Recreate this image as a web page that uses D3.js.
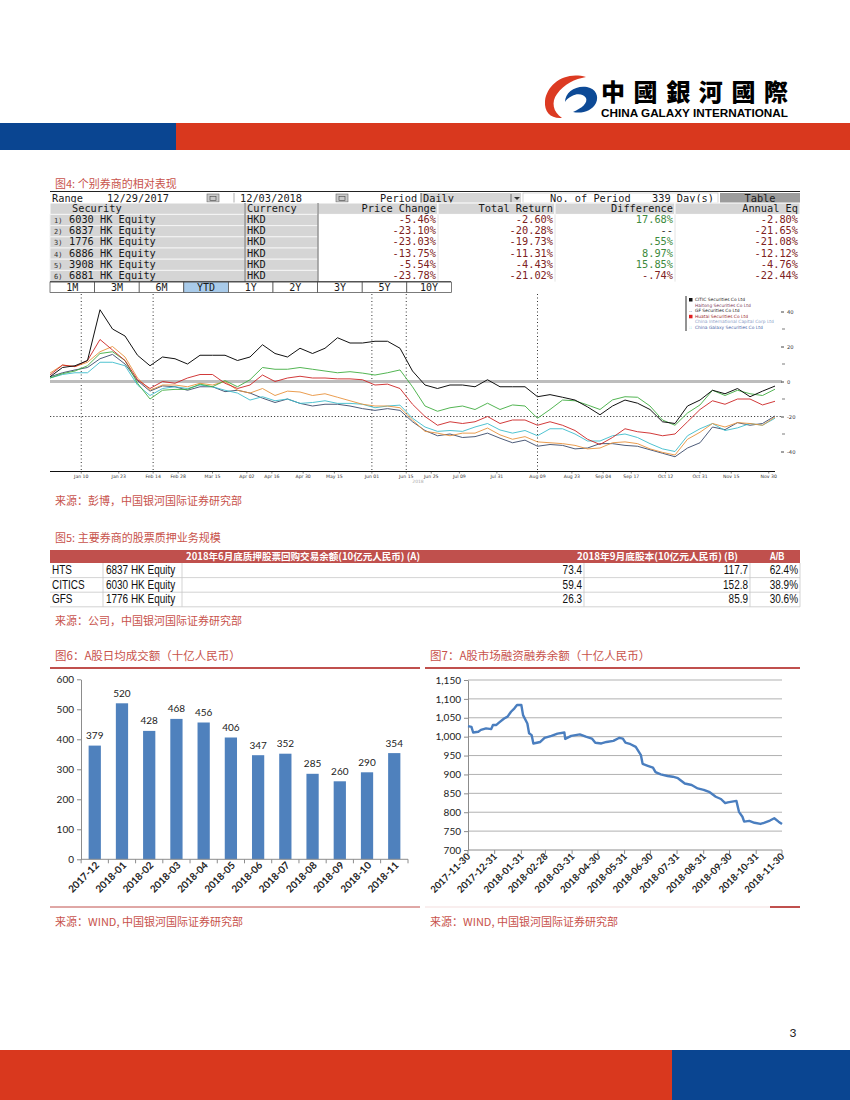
<!DOCTYPE html>
<html><head><meta charset="utf-8">
<script src="https://cdn.jsdelivr.net/npm/d3@7"></script>
<style>body{margin:0;background:#fff;}svg{display:block;}</style>
</head><body>
<svg id="page" width="850" height="1100"></svg>
<script>
// ================= DATA =================
// Fig 4 – Bloomberg relative performance table
const bbHeaders = ["Security","Currency","Price Change","Total Return","Difference","Annual Eq"];
const bbSecurities = ["6030 HK Equity","6837 HK Equity","1776 HK Equity","6886 HK Equity","3908 HK Equity","6881 HK Equity"];
const bbCurrency = ["HKD","HKD","HKD","HKD","HKD","HKD"];
const bbPriceChange = [-5.46,-23.10,-23.03,-13.75,-5.54,-23.78];
const bbTotalReturn = [-2.60,-20.28,-19.73,-11.31,-4.43,-21.02];
const bbDifference = [17.68,null,0.55,8.97,15.85,-0.74];
const bbAnnualEq = [-2.80,-21.65,-21.08,-12.12,-4.76,-22.44];
const bbTabs = ["1M","3M","6M","YTD","1Y","2Y","3Y","5Y","10Y"];

// Fig 4 – relative performance lines (trading-day index, % relative)
const bbDays = [0,4,8,12,16,20,24,28,32,36,40,44,48,52,56,60,64,68,72,76,80,84,88,92,96,100,104,108,112,116,120,124,128,132,136,140,144,148,152,156,160,164,168,172,176,180,184,188,192,196,200,204,208,212,216,220,224,228,232];
const citic = [2.7,8,9,12,41,30,26,15,9,14,13,10,15,15,15,12,14,21,16,14,19,16,19,25,22,22,23,23,19,6,-2,-4,-2,-2,-3,1,-3,-3,-3,-8.7,-7.5,-9,-10.6,-14.5,-19,-14,-10.6,-12.4,-16,-23,-24,-14,-10.6,-5,-7,-4,-8.7,-5.5,-2.6];
const haitong = [4.8,9.4,8.5,11,17,20,14,2,-5,-2,-2,-3,-1,-2,0,-5,-6.6,-4,-8,-5.5,-6,-8,-7,-9,-11,-13,-14,-14,-15,-22,-28.5,-29.5,-31,-29.5,-29.5,-26.6,-30.5,-33,-31.5,-34.5,-35,-35.5,-36.5,-38.5,-38,-35,-34.5,-35.5,-38.5,-40.5,-42,-33,-29,-24,-26,-23.5,-24,-25,-20.3];
const gf = [2.7,5,6.6,8,13,15.5,10,0.5,-5.5,-2.5,-3,-5,-3,-3,-5.8,-5,-6.6,-9.5,-12,-10,-12.5,-14,-13,-13,-14,-15.5,-16.5,-15.5,-16.5,-23,-28,-31,-30,-32,-31.5,-29.5,-32.4,-35,-33.5,-37,-36,-36.5,-38.5,-38,-35.5,-35.5,-36.5,-37,-39,-41,-43,-38,-35,-26,-27.5,-23.5,-25,-24,-19.7];
const huatai = [3.7,9.4,8.5,12,24,18,12,1,-4,0,-1,2,4,4,-1,-4,-2,3.7,0,2,3,2,2,1.5,1.5,1,-2,-1.5,-4,-13,-20,-25,-23,-24,-23,-20,-24,-22,-22,-25,-23,-25,-28,-33,-36,-32,-27,-28.7,-29.5,-31,-30,-23,-16,-11,-13,-10,-10,-13.4,-11.3];
const cicc = [2,4.5,6,9,16,17,12,-1,-10,-5,-4.5,-4.5,-1.5,-3,0.5,-3,1,8,7,7,8,7,6,5,5.6,4.8,3.7,5,6.6,-3,-14,-17,-15,-14,-16,-12.4,-16,-13.4,-14,-21,-16,-10.6,-11,-13.4,-16,-10.5,-8.7,-9,-14,-22,-25,-18,-13.4,-5,-8,-5,-7,-8,-4.4];
const galaxy = [2,4,5,5,11,11,9,-2,-8,-4,-3,-4,-2,-3,-5,-6.6,-10.6,-8.7,-11,-10,-12.5,-12,-11,-12.5,-12.5,-13,-15,-14,-13.5,-21,-26,-28.5,-28,-28.5,-26,-24,-27.7,-29.5,-28,-31,-27,-27,-30,-34,-34,-31,-30,-32,-35.5,-38.5,-40,-31,-27,-24,-28,-26.5,-24,-25,-21];
const bbSeriesNames = ["CITIC Securities Co Ltd","Haitong Securities Co Ltd","GF Securities Co Ltd","Huatai Securities Co Ltd","China International Capital Corp Ltd","China Galaxy Securities Co Ltd"];
const bbTickDays = [10,22,33,41,52,63,71,81,91,103,114,122,131,143,156,167,177,186,197,208,218,230];
const bbTickLabels = ["Jan 10","Jan 23","Feb 14","Feb 28","Mar 15","Apr 02","Apr 16","Apr 30","May 15","Jun 01","Jun 15","Jun 25","Jul 09","Jul 31","Aug 09","Aug 23","Sep 04","Sep 17","Oct 12","Oct 31","Nov 15","Nov 30"];
const bbMarkerDays = [10,33,103,114,156];
const bbYTicks = [-40,-20,0,20,40];

// Fig 5 – share pledge table
const t5Headers = ["2018年6月底质押股票回购交易余额(10亿元人民币) (A)","2018年9月底股本(10亿元人民币)  (B)","A/B"];
const t5Names = ["HTS","CITICS","GFS"];
const t5Codes = ["6837 HK Equity","6030 HK Equity","1776 HK Equity"];
const t5A = [73.4,59.4,26.3];
const t5B = [117.7,152.8,85.9];
const t5Ratio = [62.4,38.9,30.6];

// Fig 6 – A-share average daily turnover (RMB bn)
const turnMonths = ["2017-12","2018-01","2018-02","2018-03","2018-04","2018-05","2018-06","2018-07","2018-08","2018-09","2018-10","2018-11"];
const turnValues = [379,520,428,468,456,406,347,352,285,260,290,354];
const turnTicks = [0,100,200,300,400,500,600];

// Fig 7 – margin financing balance (RMB bn)
const marginDates = ["2017-11-30","2017-12-04","2017-12-06","2017-12-12","2017-12-15","2017-12-21","2017-12-27","2017-12-29","2018-01-02","2018-01-05","2018-01-11","2018-01-15","2018-01-19","2018-01-23","2018-01-26","2018-01-31","2018-02-02","2018-02-07","2018-02-09","2018-02-12","2018-02-14","2018-02-22","2018-02-27","2018-03-07","2018-03-14","2018-03-22","2018-03-23","2018-03-30","2018-04-09","2018-04-16","2018-04-23","2018-04-27","2018-05-04","2018-05-10","2018-05-18","2018-05-25","2018-05-29","2018-06-01","2018-06-07","2018-06-13","2018-06-19","2018-06-21","2018-06-27","2018-07-03","2018-07-06","2018-07-12","2018-07-20","2018-07-26","2018-08-01","2018-08-09","2018-08-17","2018-08-24","2018-08-31","2018-09-07","2018-09-14","2018-09-20","2018-09-25","2018-09-28","2018-10-08","2018-10-11","2018-10-15","2018-10-17","2018-10-23","2018-10-29","2018-11-05","2018-11-09","2018-11-16","2018-11-21","2018-11-26","2018-11-30"];
const marginValues = [1028,1026,1011,1013,1018,1022,1020,1031,1031,1037,1048,1053,1066,1075,1084,1084,1057,1035,1009,1004,982,986,997,1002,1008,1011,994,1002,1006,1000,995,984,982,986,989,997,995,984,980,973,951,928,923,918,906,900,896,894,890,876,872,863,859,853,841,835,824,826,830,801,788,775,777,772,769,772,778,784,775,769];
const marginYTicks = [700,750,800,850,900,950,1000,1050,1100,1150];
const marginXTicks = ["2017-11-30","2017-12-31","2018-01-31","2018-02-28","2018-03-31","2018-04-30","2018-05-31","2018-06-30","2018-07-31","2018-08-31","2018-09-30","2018-10-31","2018-11-30"];

// ================= DRAWING =================
const svg = d3.select("#page");
svg.append("rect").attr("width",850).attr("height",1100).attr("fill","#fff");
const REDT = "#c8524b";
const CJK = "'Noto Sans CJK SC','Noto Sans CJK TC',sans-serif";
const MONO = "'DejaVu Sans Mono','Liberation Mono',monospace";
const NARROW = "'Liberation Sans',Arial,sans-serif";
const CAL = "Lato,'Open Sans',sans-serif";

function txt(g,x,y,s,o={}){
  const t=g.append("text").attr("x",x).attr("y",y).text(s)
    .attr("font-family",o.ff||CJK).attr("font-size",o.fs||11).attr("fill",o.fill||"#000");
  if(o.anchor) t.attr("text-anchor",o.anchor);
  if(o.fw) t.attr("font-weight",o.fw);
  if(o.tl) t.attr("textLength",o.tl).attr("lengthAdjust",o.la||"spacingAndGlyphs");
  if(o.squeeze){ const w=t.node().getComputedTextLength(); t.attr("textLength",w*o.squeeze).attr("lengthAdjust","spacingAndGlyphs"); }
  return t;
}
function line(g,x1,y1,x2,y2,stroke,w,dash){
  const l=g.append("line").attr("x1",x1).attr("y1",y1).attr("x2",x2).attr("y2",y2)
    .attr("stroke",stroke).attr("stroke-width",w||1);
  if(dash) l.attr("stroke-dasharray",dash);
  return l;
}

// ---- header / logo ----
const logo = svg.append("g");
logo.append("path").attr("d","M586,77 C565,71 547,84 545,101 C544,112 551,119 562,118 C553,112 551,102 557,94 C564,84 575,79 586,77 Z").attr("fill","#dc3a22");
logo.append("path").attr("d","M565,102 C565,92 576,85 587,87 C596,89 599,96 596,103 C592,111 582,114 573,112 C582,108 588,103 586,98 C584,94 577,93 572,96 C568,98 566,100 565,102 Z").attr("fill","#0d4a96");
txt(logo,601,100.5,"中國銀河國際",{ff:"'Noto Sans CJK TC','Noto Sans CJK SC',sans-serif",fs:24,fw:900,tl:187,la:"spacing"});
txt(logo,601,116.5,"CHINA GALAXY INTERNATIONAL",{ff:"'Liberation Sans',Arial,sans-serif",fs:10.5,fw:"bold",tl:187});
svg.append("rect").attr("x",0).attr("y",123).attr("width",176).attr("height",27).attr("fill","#0a4591");
svg.append("rect").attr("x",176).attr("y",123).attr("width",674).attr("height",27).attr("fill","#d9381e");
svg.append("rect").attr("x",0).attr("y",1050).attr("width",672).attr("height",50).attr("fill","#d9381e");
svg.append("rect").attr("x",672).attr("y",1050).attr("width",178).attr("height",50).attr("fill","#0a4591");
txt(svg,793,1037,"3",{ff:CAL,fs:12,anchor:"middle",fill:"#222"});

// ---- Fig 4 ----
txt(svg,55,187.5,"图4: 个别券商的相对表现",{fs:11,fill:REDT});
const bb = svg.append("g");
const mono = (x,y,s,o={}) => txt(bb,x,y,s,Object.assign({ff:MONO,fs:10.3,fill:"#1a1a1a"},o));
line(bb,50,191.5,800,191.5,"#222",1);
mono(52,201.5,"Range");
mono(107,201.5,"12/29/2017");
[207,336].forEach(x=>{
  bb.append("rect").attr("x",x).attr("y",194).attr("width",12).attr("height",8).attr("fill","#c8c8c8").attr("stroke","#666").attr("stroke-width",0.6);
  bb.append("rect").attr("x",x+3).attr("y",196.5).attr("width",6).attr("height",4).attr("fill","none").attr("stroke","#444").attr("stroke-width",0.6);
});
line(bb,234,193,234,203,"#999",0.8);
mono(240,201.5,"12/03/2018");
mono(380,201.5,"Period");
bb.append("rect").attr("x",421).attr("y",193).attr("width",100).attr("height",10).attr("fill","#d6d6d6");
line(bb,421,193,421,203,"#333",0.8);
mono(423,201.5,"Daily");
line(bb,511,194,511,202,"#555",0.8);
bb.append("path").attr("d","M514,197 L520,197 L517,200 Z").attr("fill","#333");
bb.append("rect").attr("x",523).attr("y",193).attr("width",195).attr("height",10).attr("fill","#fff").attr("stroke","#bbb").attr("stroke-width",0.6);
mono(550,201.5,"No. of Period");
mono(652,201.5,"339 Day(s)");
bb.append("rect").attr("x",720).attr("y",193).attr("width",80).attr("height",10).attr("fill","#9c9c9c");
mono(760,201.5,"Table",{anchor:"middle"});

const bbCols = [[50,245],[245,318],[318,438],[438,555],[555,675],[675,800]];
const hdrY = 203, rowY0 = 214.4, rowH = 11.2;
bbCols.forEach((c,i)=>{
  bb.append("rect").attr("x",c[0]).attr("y",hdrY).attr("width",c[1]-c[0]).attr("height",rowY0-hdrY)
    .attr("fill","#d5d5d5").attr("stroke","#fff").attr("stroke-width",1);
  if(i<2) mono(i===0?72:247,212,bbHeaders[i]);
  else mono(c[1]-2,212,bbHeaders[i],{anchor:"end"});
});
const pct = v => { if(v===null) return "--"; let s=Math.abs(v).toFixed(2); if(s[0]==="0") s=s.slice(1); return (v<0?"-":"")+s+"%"; };
const numCol = v => v===null ? "#333" : (v<0 ? "#7e2222" : "#3d8a3d");
bbSecurities.forEach((s,k)=>{
  const y0 = rowY0 + k*rowH, yb = y0 + 8.6;
  [0,1].forEach(i=>{
    bb.append("rect").attr("x",bbCols[i][0]).attr("y",y0).attr("width",bbCols[i][1]-bbCols[i][0]).attr("height",rowH)
      .attr("fill","#d5d5d5").attr("stroke","#f4f4f4").attr("stroke-width",1);
  });
  txt(bb,54,yb,(k+1)+")",{ff:MONO,fs:7,fill:"#333"});
  mono(69,yb,s);
  mono(247,yb,bbCurrency[k]);
  [bbPriceChange[k],bbTotalReturn[k],bbDifference[k],bbAnnualEq[k]].forEach((v,j)=>{
    mono(bbCols[j+2][1]-2,yb,pct(v),{anchor:"end",fill:numCol(v)});
  });
});
const tableBottom = rowY0 + 6*rowH;
line(bb,245,hdrY,245,tableBottom,"#555",0.9);
line(bb,318,hdrY,318,tableBottom,"#555",0.9);
[438,555,675].forEach(x=>line(bb,x,rowY0,x,tableBottom,"#ddd",0.8));
// tabs
line(bb,50,tableBottom,451,tableBottom,"#333",0.9);
bbTabs.forEach((t,i)=>{
  const x = 50 + i*44.6;
  bb.append("rect").attr("x",x).attr("y",tableBottom+0.5).attr("width",44.6).attr("height",10.5)
    .attr("fill",t==="YTD"?"#a9cbea":"#fff").attr("stroke","#444").attr("stroke-width",0.7);
  mono(x+22.3,tableBottom+9,t,{anchor:"middle",fs:10});
});

// line chart
const lc = svg.append("g");
const xb = d3.scaleLinear().domain([0,232]).range([50,775]);
const yb = d3.scaleLinear().domain([-40,40]).range([451.5,311.5]);
const axisY = 471.5;
bbMarkerDays.forEach(d=>line(lc,xb(d),294,xb(d),axisY,"#333",1,"1,2.5"));
line(lc,50,yb(-20),782,yb(-20),"#444",1,"1.2,2");
line(lc,50,yb(0),782,yb(0),"#bdbdbd",3);
const bbSeries = [
  {v:gf,c:"#3a4a6a"},{v:galaxy,c:"#3cbccc"},{v:haitong,c:"#e8923c"},
  {v:cicc,c:"#40ad40"},{v:huatai,c:"#cc2424"},{v:citic,c:"#111"}];
const lg = d3.line().x((d,i)=>xb(bbDays[i])).y(d=>yb(d));
bbSeries.forEach(s=>lc.append("path").datum(s.v).attr("d",lg).attr("fill","none").attr("stroke",s.c).attr("stroke-width",s.c==="#111"?1:0.9));
line(lc,50,axisY,775,axisY,"#111",1.2);
bbTickDays.forEach((d,i)=>{
  line(lc,xb(d),axisY,xb(d),axisY+2,"#333",0.6);
  txt(lc,xb(d),477.5,bbTickLabels[i],{ff:"'DejaVu Sans',sans-serif",fs:4.6,anchor:"middle",fill:"#333"});
});
txt(lc,418,483,"2018",{ff:"'DejaVu Sans',sans-serif",fs:4.5,anchor:"middle",fill:"#aaa"});
const ra = lc.append("g").attr("transform","translate(781,0)")
  .call(d3.axisRight(yb).tickValues(bbYTicks).tickSize(3).tickFormat(d=>d));
ra.select(".domain").remove();
ra.selectAll("text").attr("font-size",5.2).attr("font-family","'DejaVu Sans',sans-serif").attr("fill","#333");
ra.selectAll("line").attr("stroke","#444");
[-30,-10,10,30].forEach(v=>line(lc,782,yb(v),785,yb(v),"#444",0.7));
// legend
const leg = lc.append("g");
line(leg,686,296,686,331,"#111",0.9);
const legCols = ["#222","#7a3a5a","#222","#9a1f2a","#8aa0c8","#4a68a8"];
bbSeriesNames.forEach((n,i)=>{
  const y = 301 + i*5.6;
  if(i===0||i===3) leg.append("rect").attr("x",689).attr("y",y-3).attr("width",3.5).attr("height",3.5).attr("fill",i===0?"#111":"#e02020");
  if(i===2) txt(leg,689,y,"..",{ff:"'DejaVu Sans',sans-serif",fs:5,fill:"#222"});
  if(i===5) txt(leg,689,y,"::",{ff:"'DejaVu Sans',sans-serif",fs:4.5,fill:"#3cbccc"});
  txt(leg,695,y,n,{ff:"'DejaVu Sans',sans-serif",fs:4.4,fill:legCols[i]});
});
txt(svg,55,505,"来源：彭博，中国银河国际证券研究部",{fs:11,fill:REDT});

// ---- Fig 5 ----
txt(svg,55,542,"图5: 主要券商的股票质押业务规模",{fs:11,fill:REDT});
const t5 = svg.append("g");
t5.append("rect").attr("x",50).attr("y",550).attr("width",750).attr("height",13).attr("fill","#c0504d");
txt(t5,186,560,t5Headers[0],{fs:9.6,fw:"bold",fill:"#fff",tl:234});
txt(t5,577,560,t5Headers[1],{fs:9.6,fw:"bold",fill:"#fff",tl:161});
txt(t5,777,560,t5Headers[2],{ff:NARROW,fs:10,fw:"bold",fill:"#fff",anchor:"middle",squeeze:0.85});
const r5H = 14.6;
t5Names.forEach((n,k)=>{
  const y0 = 563 + k*r5H, ybs = y0 + 11;
  line(t5,50,y0+r5H,800,y0+r5H,"#c8c8c8",0.8);
  const o={ff:NARROW,fs:12,fill:"#111",squeeze:0.83};
  txt(t5,52,ybs,n,o);
  txt(t5,106,ybs,t5Codes[k],o);
  txt(t5,582,ybs,t5A[k].toFixed(1),Object.assign({anchor:"end"},o));
  txt(t5,748,ybs,t5B[k].toFixed(1),Object.assign({anchor:"end"},o));
  txt(t5,798,ybs,t5Ratio[k].toFixed(1)+"%",Object.assign({anchor:"end"},o));
});
[103,182,584,750].forEach(x=>line(t5,x,563,x,563+3*r5H,"#c8c8c8",0.8));
line(t5,800,563,800,563+3*r5H,"#c8c8c8",0.8);
txt(svg,55,624.5,"来源：公司，中国银河国际证券研究部",{fs:11,fill:REDT});

// ---- Fig 6 ----
txt(svg,55,659.5,"图6：A股日均成交额（十亿人民币）",{fs:11.5,fill:REDT});
line(svg,50,668,420,668,"#c0504d",2);
const f6 = svg.append("g");
const x6 = d3.scaleBand().domain(turnMonths).range([81,408]).paddingInner(0.55).paddingOuter(0.28);
const y6 = d3.scaleLinear().domain([0,600]).range([859.3,679.3]);
const ya6 = f6.append("g").attr("transform","translate(81,0)").call(d3.axisLeft(y6).tickValues(turnTicks).tickSize(4).tickSizeOuter(0));
ya6.select(".domain").attr("stroke","#8c8c8c");
ya6.selectAll("line").attr("stroke","#8c8c8c");
ya6.selectAll("text").attr("font-family",CAL).attr("font-size",10).attr("fill","#222");
f6.selectAll("rect.bar").data(turnValues).enter().append("rect").attr("class","bar")
  .attr("x",(d,i)=>x6(turnMonths[i])).attr("width",x6.bandwidth())
  .attr("y",d=>y6(d)).attr("height",d=>y6(0)-y6(d)).attr("fill","#4f81bd");
f6.selectAll("text.val").data(turnValues).enter().append("text").attr("class","val")
  .attr("x",(d,i)=>x6(turnMonths[i])+x6.bandwidth()/2).attr("y",d=>y6(d)-6.5)
  .attr("text-anchor","middle").attr("font-family",CAL).attr("font-size",10).attr("fill","#222").text(d=>d);
line(f6,81,y6(0),408,y6(0),"#8c8c8c",1);
const step6 = x6.step();
turnMonths.forEach((m,i)=>{
  const bx = x6(m) - step6*0.55/2;
  line(f6,bx,y6(0),bx,y6(0)+4,"#8c8c8c",1);
  const cx = x6(m)+x6.bandwidth()/2;
  f6.append("text").attr("transform",`translate(${cx+5},${866}) rotate(-45)`).attr("text-anchor","end")
    .attr("font-family",CAL).attr("font-size",10).attr("font-weight","bold").attr("fill","#222").text(m);
});
line(f6,408,y6(0),408,y6(0)+4,"#8c8c8c",1);
line(svg,50,907,420,907,"#c0504d",1);
txt(svg,55,926,"来源：WIND, 中国银河国际证券研究部",{fs:11,fill:REDT});

// ---- Fig 7 ----
txt(svg,430,659.5,"图7：A股市场融资融券余额（十亿人民币）",{fs:11.5,fill:REDT});
line(svg,425,668,800,668,"#c0504d",2);
const f7 = svg.append("g");
const pd = d3.timeParse("%Y-%m-%d");
const x7 = d3.scaleTime().domain([pd("2017-11-30"),pd("2018-11-30")]).range([468,782]);
const y7 = d3.scaleLinear().domain([700,1150]).range([850,680]);
marginYTicks.forEach(v=>{ if(v>700) line(f7,468,y7(v),782,y7(v),"#a8a8a8",0.9); });
const ya7 = f7.append("g").attr("transform","translate(468,0)").call(d3.axisLeft(y7).tickValues(marginYTicks).tickSize(4).tickSizeOuter(0).tickFormat(d3.format(",")));
ya7.select(".domain").attr("stroke","#8c8c8c");
ya7.selectAll("line").attr("stroke","#8c8c8c");
ya7.selectAll("text").attr("font-family",CAL).attr("font-size",10).attr("fill","#222");
line(f7,468,y7(700),782,y7(700),"#8c8c8c",1);
marginXTicks.forEach(d=>{
  const x = x7(pd(d));
  line(f7,x,y7(700),x,y7(700)+4,"#8c8c8c",1);
  f7.append("text").attr("transform",`translate(${x+3},${857}) rotate(-45)`).attr("text-anchor","end")
    .attr("font-family",CAL).attr("font-size",9.6).attr("font-weight","bold").attr("fill","#222").text(d);
});
const ml = d3.line().x((d,i)=>x7(pd(marginDates[i]))).y(d=>y7(d));
f7.append("path").datum(marginValues).attr("d",ml).attr("fill","none").attr("stroke","#4a7ebf").attr("stroke-width",2.4).attr("stroke-linejoin","round");
line(svg,425,907,770,907,"#f0d4d4",0.8);
line(svg,770,907,800,907,"#c0504d",2);
txt(svg,430,926,"来源：WIND, 中国银河国际证券研究部",{fs:11,fill:REDT});
</script>
</body></html>
